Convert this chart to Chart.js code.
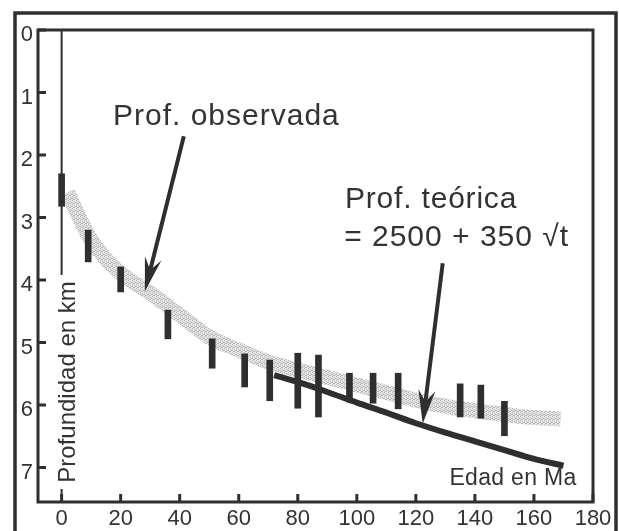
<!DOCTYPE html>
<html>
<head>
<meta charset="utf-8">
<script src="https://cdn.jsdelivr.net/npm/chart.js@4.4.0/dist/chart.umd.min.js"></script>
<style>
  html, body { margin: 0; padding: 0; background: #fff; }
  #wrap { width: 619px; height: 531px; position: relative; }
</style>
</head>
<body>
<div id="wrap"><canvas id="depthChart"></canvas></div>
<script>
// Black bars: age (Ma) and observed depth range (km)
const barAges = [0, 9, 20, 36, 51, 62, 70.5, 80, 87, 97.5, 105.5, 114, 135, 142, 150];
const barTop = [2.30, 3.20, 3.79, 4.48, 4.94, 5.18, 5.28, 5.17, 5.20, 5.49, 5.49, 5.49, 5.66, 5.68, 5.94];
const barBottom = [2.82, 3.71, 4.19, 4.94, 5.41, 5.71, 5.93, 6.05, 6.19, 5.95, 5.97, 6.06, 6.19, 6.21, 6.49];

// Grey band: observed depth trend
const bandAges = [2, 10, 20, 30, 40, 50, 60, 70, 80, 90, 100, 110, 120, 130, 140, 150, 160, 169];
const bandDepth = [2.6, 3.36, 3.89, 4.21, 4.56, 4.91, 5.12, 5.31, 5.44, 5.56, 5.68, 5.8, 5.92, 6.02, 6.09, 6.15, 6.2, 6.22];

// Thick black line: theoretical depth
const theoryAges = [72, 80, 90, 100, 110, 120, 130, 140, 150, 160, 170];
const theoryDepth = [5.52, 5.63, 5.79, 5.96, 6.12, 6.29, 6.44, 6.58, 6.72, 6.86, 6.97];

const xTicks = [0, 20, 40, 60, 80, 100, 120, 140, 160, 180];
const yTicks = [0, 1, 2, 3, 4, 5, 6, 7];

const ink = '#2f2f2f';
const fontFamily = '"Liberation Sans", Arial, Helvetica, sans-serif';

Chart.defaults.font.family = fontFamily;
Chart.defaults.color = '#333';

// stippled light grey for the band (scattered dots, no diagonal hatch)
function bandPattern() {
    const c = document.createElement('canvas');
    c.width = 4; c.height = 4;
    const g = c.getContext('2d');
    g.fillStyle = '#e4e4e4';
    g.fillRect(0, 0, 4, 4);
    g.fillStyle = '#b9b9b9';
    [[0, 0], [2, 1], [1, 3], [3, 2], [2, 3], [0, 2]].forEach(p => g.fillRect(p[0], p[1], 1, 1));
    return g.createPattern(c, 'repeat');
}

function drawArrow(ctx, x1, y1, x2, y2) {
    const ang = Math.atan2(y2 - y1, x2 - x1);
    const len = 34, half = 8.5, notch = 22;
    ctx.lineWidth = 4;
    ctx.beginPath();
    ctx.moveTo(x1, y1);
    ctx.lineTo(x2 - Math.cos(ang) * notch, y2 - Math.sin(ang) * notch);
    ctx.stroke();
    ctx.save();
    ctx.translate(x2, y2);
    ctx.rotate(ang);
    ctx.beginPath();
    ctx.moveTo(0, 0);
    ctx.lineTo(-len, -half);
    ctx.lineTo(-notch, 0);
    ctx.lineTo(-len, half);
    ctx.closePath();
    ctx.fill();
    ctx.restore();
}

function text(ctx, str, x, y, size, spacing, align) {
    ctx.font = size + 'px ' + fontFamily;
    ctx.letterSpacing = (spacing || 0) + 'px';
    ctx.textAlign = align || 'left';
    ctx.textBaseline = 'alphabetic';
    ctx.fillText(str, x, y);
    ctx.letterSpacing = '0px';
}

const figurePlugin = {
    id: 'figure',
    beforeDatasetsDraw(chart) {
        const { ctx, chartArea, scales } = chart;
        const x0 = scales.x.getPixelForValue(0);
        ctx.save();
        ctx.strokeStyle = ink;
        ctx.lineWidth = 2;
        ctx.beginPath();
        ctx.moveTo(x0, chartArea.top);
        ctx.lineTo(x0, chartArea.bottom);
        ctx.stroke();
        ctx.restore();
    },
    afterDatasetsDraw(chart) {
        const { ctx, chartArea, scales } = chart;
        const xs = scales.x, ys = scales.y;
        const px = v => xs.getPixelForValue(v);
        const py = v => ys.getPixelForValue(v);
        ctx.save();
        ctx.fillStyle = ink;
        ctx.strokeStyle = ink;

        // rotated axis title sitting on the age-0 line
        const lx = px(0) + 13, ly = py(5.63);
        ctx.fillStyle = '#fff';
        ctx.fillRect(lx - 22, ly - 107, 26, 214);
        ctx.fillStyle = '#333';
        ctx.save();
        ctx.translate(lx, ly);
        ctx.rotate(-Math.PI / 2);
        text(ctx, 'Profundidad en km', 0, 0, 24, 0, 'center');
        ctx.restore();

        // annotations
        text(ctx, 'Prof. observada', px(17.4), py(1.52), 30, 1);
        text(ctx, 'Prof. teórica', px(96), py(2.84), 30, 0.8);
        text(ctx, '= 2500 + 350 \u221At', px(95.7), py(3.46), 30, 1);
        text(ctx, 'Edad en Ma', px(174.4), py(7.28), 23, 0.3, 'right');

        ctx.fillStyle = ink;
        drawArrow(ctx, px(41.4), py(1.70), px(28.2), py(4.18));
        drawArrow(ctx, px(129.1), py(3.73), px(122.3), py(6.30));

        // inner frame and inward tick marks
        ctx.lineWidth = 3;
        ctx.strokeRect(chartArea.left, chartArea.top, chartArea.right - chartArea.left, chartArea.bottom - chartArea.top);
        ctx.beginPath();
        yTicks.forEach(v => {
            ctx.moveTo(chartArea.left, py(v));
            ctx.lineTo(chartArea.left + 8, py(v));
        });
        xTicks.forEach(v => {
            ctx.moveTo(px(v), chartArea.bottom);
            ctx.lineTo(px(v), chartArea.bottom - 8);
        });
        ctx.stroke();

        // outer frame (open at the bottom)
        ctx.lineWidth = 3.5;
        ctx.beginPath();
        ctx.moveTo(15, chart.height);
        ctx.lineTo(15, 13);
        ctx.lineTo(616, 13);
        ctx.lineTo(616, chart.height);
        ctx.stroke();
        ctx.restore();
    }
};

new Chart(document.getElementById('depthChart').getContext('2d'), {
    type: 'bar',
    data: {
        datasets: [
            {
                type: 'line',
                data: bandAges.map((a, i) => ({ x: a, y: bandDepth[i] })),
                borderColor: bandPattern(),
                borderWidth: 15,
                pointRadius: 0,
                tension: 0.4,
                cubicInterpolationMode: 'monotone',
                order: 3
            },
            {
                type: 'line',
                data: theoryAges.map((a, i) => ({ x: a, y: theoryDepth[i] })),
                borderColor: ink,
                borderWidth: 6,
                pointRadius: 0,
                tension: 0.4,
                cubicInterpolationMode: 'monotone',
                order: 2
            },
            {
                type: 'bar',
                data: barAges.map((a, i) => ({ x: a, y: [barTop[i], barBottom[i]] })),
                backgroundColor: ink,
                borderWidth: 0,
                barThickness: 6,
                order: 1
            }
        ]
    },
    options: {
        responsive: true,
        maintainAspectRatio: false,
        animation: false,
        events: [],
        layout: { padding: { left: 14, top: 30, right: 26, bottom: 0 } },
        plugins: { legend: { display: false }, tooltip: { enabled: false } },
        scales: {
            x: {
                type: 'linear',
                min: -8,
                max: 180,
                offset: false,
                grid: { display: false, drawTicks: false },
                border: { display: false },
                ticks: { autoSkip: false, maxRotation: 0, padding: 4, font: { size: 22 }, color: '#333' },
                afterBuildTicks: s => { s.ticks = xTicks.map(v => ({ value: v })); },
                afterFit: s => { s.height = 29; }
            },
            y: {
                type: 'linear',
                reverse: true,
                min: 0,
                max: 7.55,
                grid: { display: false, drawTicks: false },
                border: { display: false },
                ticks: { autoSkip: false, padding: 5, labelOffset: 5, font: { size: 22 }, color: '#333' },
                afterBuildTicks: s => { s.ticks = yTicks.map(v => ({ value: v })); },
                afterFit: s => { s.width = 24; }
            }
        }
    },
    plugins: [figurePlugin]
});
</script>
</body>
</html>
